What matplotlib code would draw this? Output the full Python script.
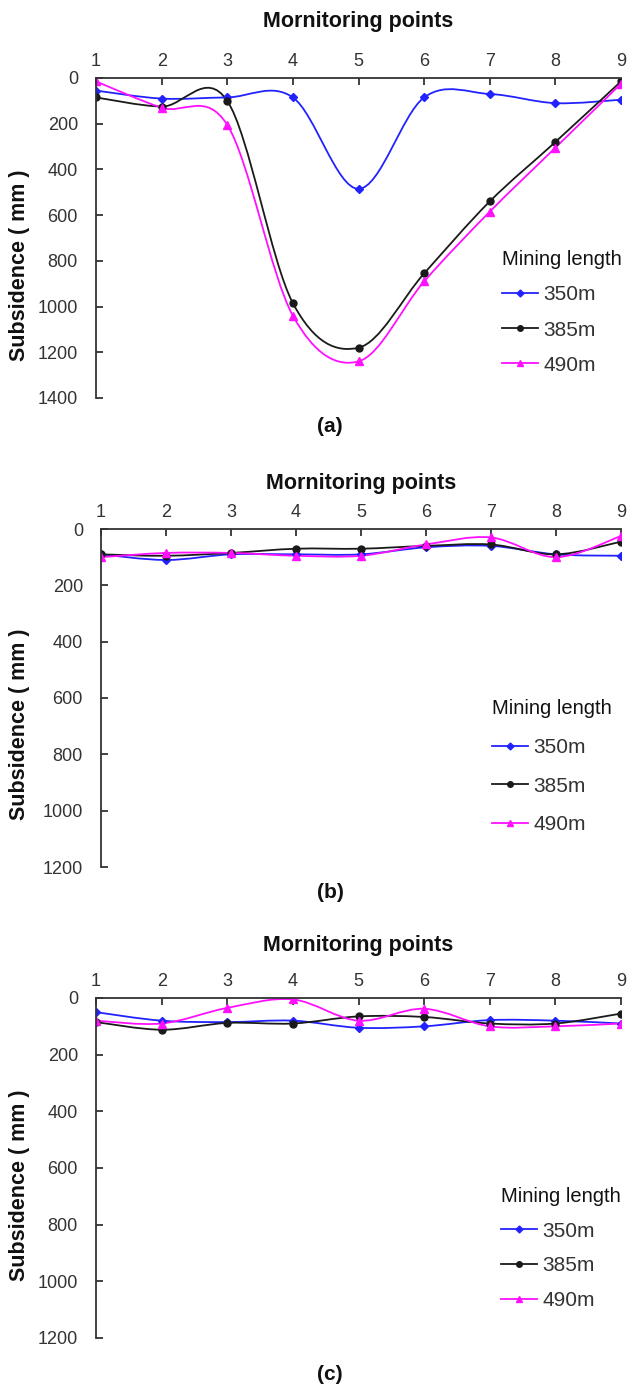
import matplotlib
matplotlib.use("Agg")
import matplotlib.pyplot as plt
from matplotlib.path import Path
from matplotlib.patches import PathPatch
from matplotlib.lines import Line2D

plt.rcParams['font.family'] = ['Liberation Sans', 'DejaVu Sans']

points = [1, 2, 3, 4, 5, 6, 7, 8, 9]
series_names = ["350m", "385m", "490m"]

# panel (a)
a_350 = [55, 90, 85, 85, 485, 85, 70, 110, 95]
a_385 = [85, 125, 100, 985, 1180, 855, 540, 280, 15]
a_490 = [15, 130, 205, 1040, 1240, 890, 585, 305, 25]

# panel (b)
b_350 = [90, 110, 90, 90, 90, 65, 60, 90, 95]
b_385 = [90, 95, 85, 70, 70, 60, 55, 90, 45]
b_490 = [100, 85, 85, 95, 95, 55, 30, 100, 25]

# panel (c)
c_350 = [50, 80, 85, 80, 105, 100, 78, 80, 90]
c_385 = [85, 112, 88, 90, 65, 67, 90, 90, 55]
c_490 = [80, 90, 35, 5, 80, 38, 100, 100, 90]

colors = ['#2222ff', '#1a1a1a', '#ff10ff']
markers = ['D', 'o', '^']
msizes = [4.5, 5, 6]

W, H = 627, 1387


def smooth_path(xs, ys):
    # excel-like smoothed line (cubic bezier through the points)
    pts = list(zip(xs, ys))
    n = len(pts)
    verts = [pts[0]]
    codes = [Path.MOVETO]
    for i in range(n - 1):
        p0 = pts[i - 1] if i > 0 else pts[i]
        p1 = pts[i]
        p2 = pts[i + 1]
        p3 = pts[i + 2] if i + 2 < n else pts[i + 1]
        c1 = (p1[0] + (p2[0] - p0[0]) / 6, p1[1] + (p2[1] - p0[1]) / 6)
        c2 = (p2[0] - (p3[0] - p1[0]) / 6, p2[1] - (p3[1] - p1[1]) / 6)
        verts += [c1, c2, p2]
        codes += [Path.CURVE4] * 3
    return Path(verts, codes)


def panel(fig, box, data, ymax, title_y, label, label_y, ylab_y, leg_box, leg_space):
    left, top, right, bottom = box
    ax = fig.add_axes([left / W, 1 - bottom / H, (right - left) / W, (bottom - top) / H])
    for vals, c, m, ms in zip(data, colors, markers, msizes):
        ax.add_patch(PathPatch(smooth_path(points, vals), fill=False, edgecolor=c, lw=1.3))
        ax.plot(points, vals, linestyle='none', marker=m, color=c, markersize=ms)
    ax.set_xlim(1, 9)
    ax.set_ylim(ymax, 0)
    ax.set_xticks(points)
    ax.set_yticks(range(0, ymax + 1, 200))
    ax.xaxis.tick_top()
    for s in ['right', 'bottom']:
        ax.spines[s].set_visible(False)
    for s in ['top', 'left']:
        ax.spines[s].set_color('#333333')
        ax.spines[s].set_linewidth(1.3)
    ax.tick_params(axis='x', direction='in', length=5, width=1.3, color='#333333',
                   labelsize=13, labelcolor='#333333', pad=6)
    ax.tick_params(axis='y', direction='in', length=5, width=1.3, color='#333333',
                   labelsize=13, labelcolor='#333333', pad=13)
    ax.patch.set_alpha(0)

    fig.text((left + right) / 2 / W, 1 - title_y / H, "Mornitoring points",
             fontsize=15.5, fontweight='bold', ha='center', va='center', color='#111111')
    fig.text(330 / W, 1 - label_y / H, label, fontsize=15, fontweight='bold',
             ha='center', va='center', color='#111111')
    fig.text(20 / W, 1 - ylab_y / H, "Subsidence ( mm )", fontsize=15.5, fontweight='bold',
             rotation=90, ha='center', va='center', color='#111111')

    handles = [Line2D([], [], color=c, marker=m, markersize=ms - 1, lw=1.3)
               for c, m, ms in zip(colors, markers, msizes)]
    leg = ax.legend(handles, series_names, title="Mining length", frameon=False,
                    loc='upper left', bbox_to_anchor=(leg_box[0] / W, 1 - leg_box[1] / H),
                    bbox_transform=fig.transFigure, fontsize=15, title_fontsize=14.5,
                    handlelength=1.75, handletextpad=0.25, labelspacing=leg_space,
                    borderaxespad=0, borderpad=0, alignment='left', numpoints=1)
    for t in leg.get_texts():
        t.set_color('#333333')
    leg.get_title().set_color('#111111')
    return ax


fig = plt.figure(figsize=(W / 100, H / 100), dpi=100)

panel(fig, (96, 78, 621, 398), [a_350, a_385, a_490], 1400, 22, "(a)", 427, 265,
      (502, 250), 0.78)
panel(fig, (101, 529, 621, 867), [b_350, b_385, b_490], 1200, 483, "(b)", 893, 724,
      (492, 699), 0.95)
panel(fig, (96, 998, 621, 1338), [c_350, c_385, c_490], 1200, 945, "(c)", 1375, 1185,
      (501, 1187), 0.75)

fig.savefig("out.png", dpi=100)
